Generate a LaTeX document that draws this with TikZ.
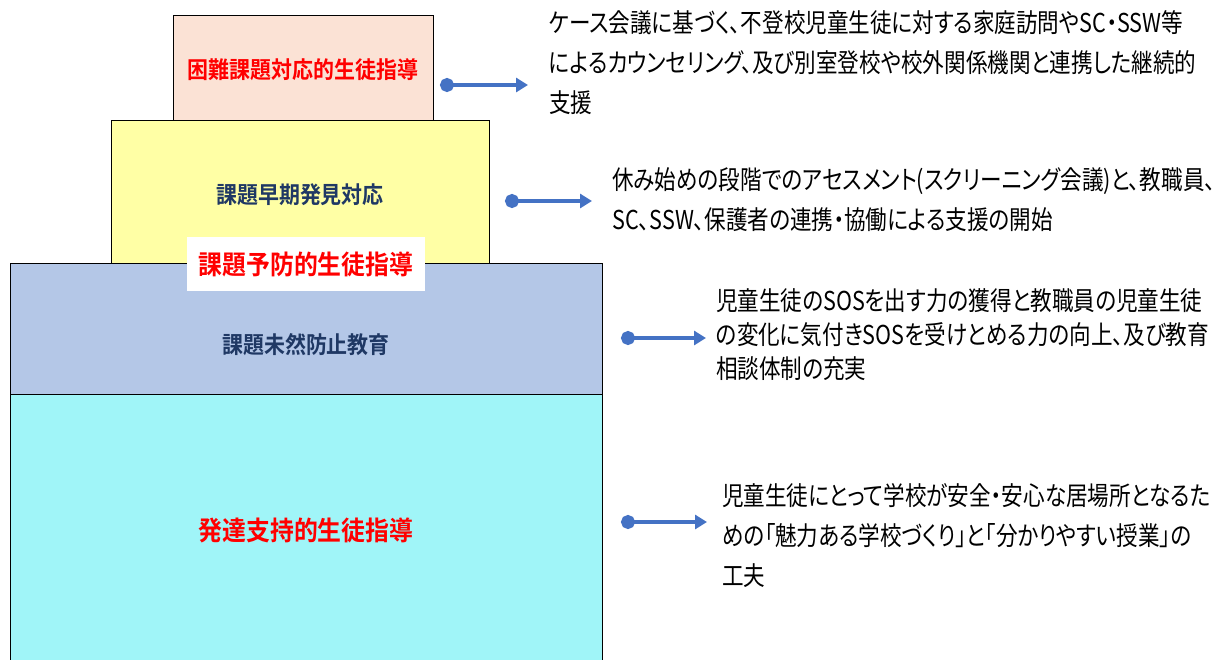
\documentclass[tikz,border=0pt]{standalone}
\usepackage{fontspec}
\usepackage{tikz}
\usetikzlibrary{arrows.meta}
\newfontfamily\jpfont[FakeStretch=0.83, RawFeature=+palt]{Noto Sans CJK JP}
\newfontfamily\jpbold[FakeStretch=0.9]{Noto Sans CJK JP Bold}
\definecolor{tierpink}{HTML}{FBE2D5}
\definecolor{tieryellow}{HTML}{FFFFA5}
\definecolor{tierblue}{HTML}{B4C7E7}
\definecolor{tiercyan}{HTML}{A0F5F8}
\definecolor{navytext}{HTML}{1F3864}
\definecolor{linkblue}{HTML}{4472C4}

\begin{document}
\begin{tikzpicture}[x=1pt,y=-1pt,
    tier/.style={draw=black, line width=0.8pt, inner sep=0pt},
    tiername/.style={font=\jpbold\fontsize{23.3}{23.3}\selectfont},
    bigname/.style={font=\jpbold\fontsize{26.5}{26.5}\selectfont, text=red},
    note/.style={anchor=north west, align=left, inner sep=0pt,
      font=\jpfont\fontsize{26}{40}\selectfont},
    link/.style={draw=linkblue, line width=3.4pt,
      {Circle[length=14pt]}-{Triangle[length=12pt,width=14pt]}}]
    \useasboundingbox (0,0) rectangle (1221,659);
    % tiers, bottom first
    \node[tier, fill=tiercyan, minimum width=592pt, minimum height=268pt] (dev) at (306,528) {};
    \node[tier, fill=tierblue, minimum width=592pt, minimum height=131pt] (pre) at (306,328.5) {};
    \node[tier, fill=tieryellow, minimum width=378pt, minimum height=143pt] (early) at (300,191.5) {};
    \node[tier, fill=tierpink, minimum width=260pt, minimum height=105pt] (hard) at (303,67.5) {};
    \node[fill=white, inner sep=0pt, minimum width=238pt, minimum height=54pt, bigname] (prevtitle) at (306,264) {課題予防的生徒指導};
    % tier names
    \node[tiername, text=red] (hardname) at (303,70) {困難課題対応的生徒指導};
    \node[tiername, text=navytext] (earlyname) at (300,195) {課題早期発見対応};
    \node[tiername, text=navytext] (prename) at (306,345) {課題未然防止教育};
    \node[bigname] (devname) at (306,530) {発達支持的生徒指導};
    % notes
    \node[note] (hardnote) at (549,10) {ケース会議に基づく、不登校児童生徒に対する家庭訪問やSC・SSW等\\によるカウンセリング、及び別室登校や校外関係機関と連携した継続的\\支援};
    \node[note] (earlynote) at (612,167) {休み始めの段階でのアセスメント(スクリーニング会議)と、教職員、\\SC、SSW、保護者の連携・協働による支援の開始};
    \node[note, font=\jpfont\fontsize{26}{34}\selectfont] (prenote) at (716,288) {児童生徒のSOSを出す力の獲得と教職員の児童生徒\\の変化に気付きSOSを受けとめる力の向上、及び教育\\相談体制の充実};
    \node[note] (devnote) at (722,483) {児童生徒にとって学校が安全・安心な居場所となるた\\めの「魅力ある学校づくり」と「分かりやすい授業」の\\工夫};
    % links
    \coordinate (h0) at (440,85);   \coordinate (h1) at (528,85);
    \coordinate (e0) at (505,201);  \coordinate (e1) at (592,201);
    \coordinate (p0) at (621,338);  \coordinate (p1) at (706,338);
    \coordinate (d0) at (621,522);  \coordinate (d1) at (707,522);
    \draw[link] (h0) -- (h1);
    \draw[link] (e0) -- (e1);
    \draw[link] (p0) -- (p1);
    \draw[link] (d0) -- (d1);
\end{tikzpicture}
\end{document}
